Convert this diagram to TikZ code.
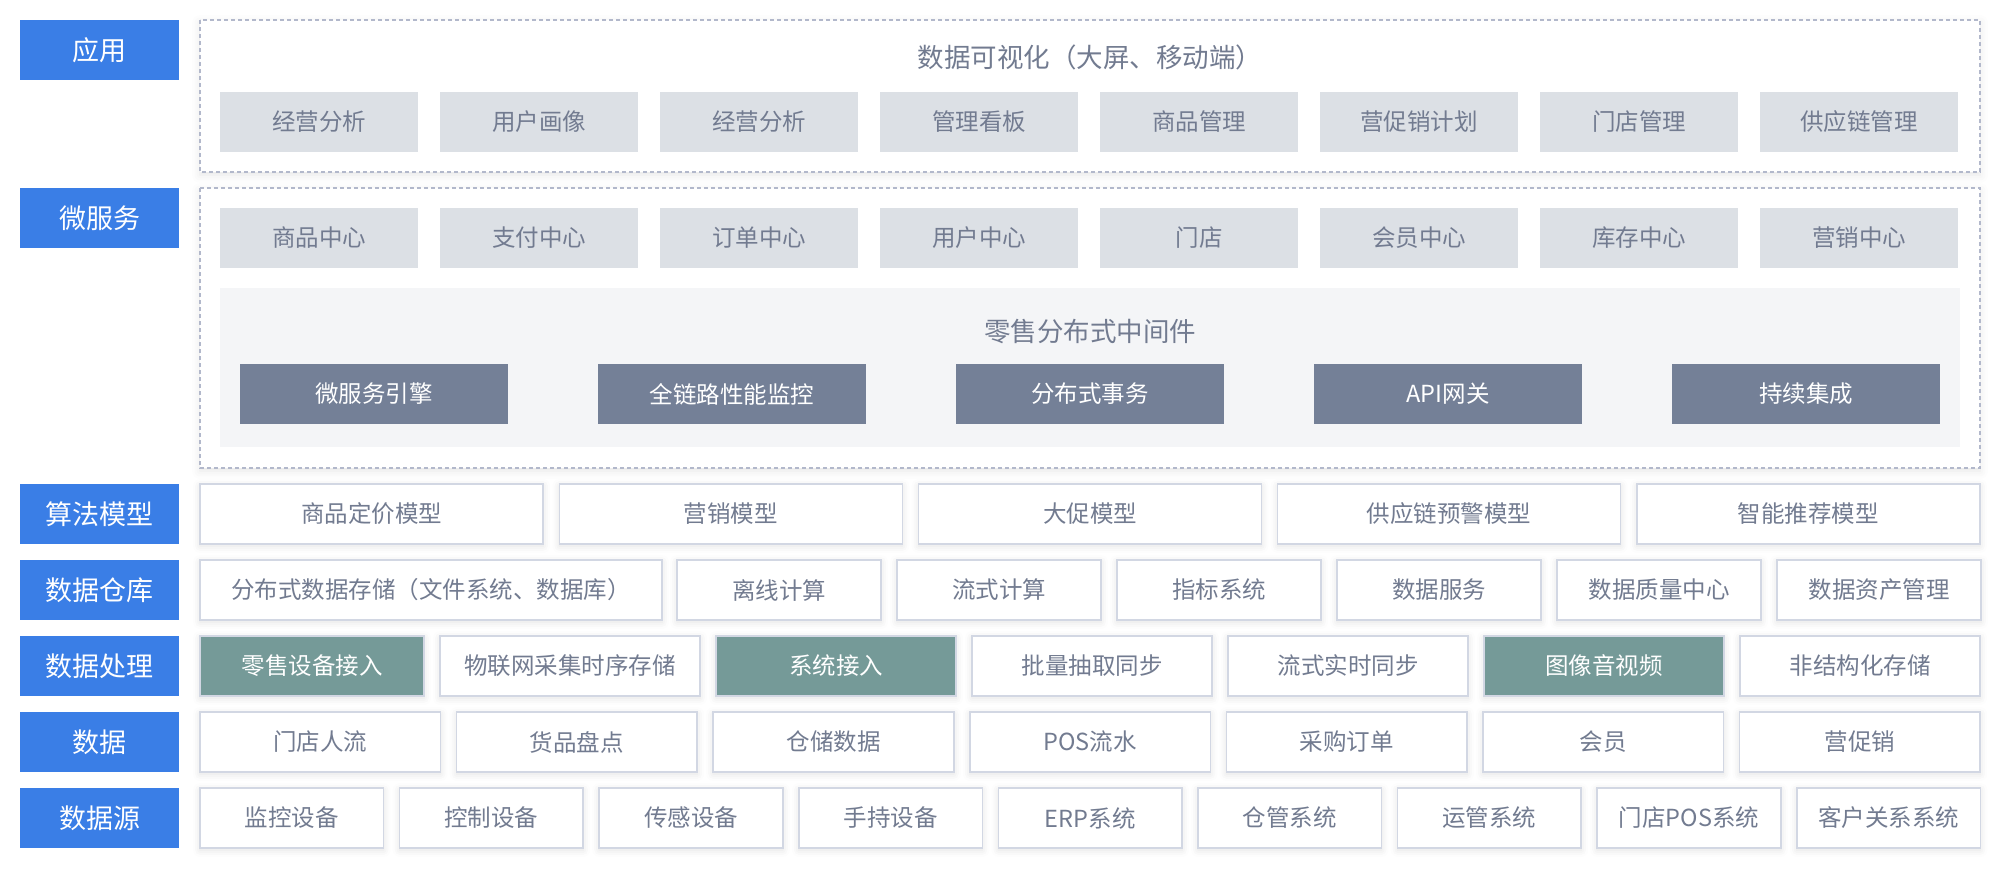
\documentclass[tikz,border=0pt]{standalone}
\usepackage{fontspec}
\setmainfont{Noto Sans CJK SC}
\usepackage{tikz}
\usetikzlibrary{shadows.blur}

\definecolor{layerblue}{HTML}{3A7EE6}
\definecolor{appgray}{HTML}{DCE0E5}
\definecolor{coregray}{HTML}{748097}
\definecolor{hotgreen}{HTML}{759A98}
\definecolor{textgray}{HTML}{727B90}
\definecolor{edgegray}{HTML}{D2D7E3}
\definecolor{dashgray}{HTML}{B2B8CB}
\definecolor{panelgray}{HTML}{F4F5F7}

\begin{document}
\begin{tikzpicture}[x=1pt,y=-1pt,
  layer/.style={fill=layerblue,text=white,minimum width=159pt,minimum height=60pt,
    inner sep=0pt,font=\fontsize{27}{30}\selectfont},
  appbox/.style={fill=appgray,text=textgray,minimum width=198pt,minimum height=60pt,
    inner sep=0pt,font=\fontsize{23.5}{28}\selectfont},
  corebox/.style={fill=coregray,text=white,minimum width=268pt,minimum height=60pt,
    inner sep=0pt,font=\fontsize{23.5}{28}\selectfont},
  cellbox/.style={draw=edgegray,line width=1.5pt,fill=white,text=textgray,minimum height=60pt,
    inner sep=0pt,font=\fontsize{23.5}{28}\selectfont,
    blur shadow={shadow xshift=0pt,shadow yshift=-2pt,shadow blur radius=7pt,shadow opacity=12}},
  hotbox/.style={cellbox,fill=hotgreen,text=white},
  zone/.style={draw=dashgray,line width=1.4pt,dash pattern=on 4pt off 3pt,fill=white,
    blur shadow={shadow xshift=0pt,shadow yshift=-3pt,shadow blur radius=8pt,shadow opacity=10}},
  heading/.style={text=textgray,font=\fontsize{26.5}{30}\selectfont}]

  \useasboundingbox (0,0) rectangle (2000,880);

  \filldraw[zone] (200,20) rectangle (1980,172);
  \filldraw[zone] (200,188) rectangle (1980,468);
  \fill[panelgray] (220,288) rectangle (1960,447);

  \node[heading] (viztitle) at (1090,57) {数据可视化（大屏、移动端）};
  \node[heading] (mwtitle) at (1090,332) {零售分布式中间件};

  \foreach \name/\y [count=\i] in {应用/50,微服务/218,算法模型/514,数据仓库/590,数据处理/666,数据/742,数据源/818}
    \node[layer] (layer\i) at (99.5,\y) {\name};

  \foreach \name [count=\i from 0] in {经营分析,用户画像,经营分析,管理看板,商品管理,营促销计划,门店管理,供应链管理}
    \node[appbox] (app\i) at ({319+220*\i},122) {\name};

  \foreach \name [count=\i from 0] in {商品中心,支付中心,订单中心,用户中心,门店,会员中心,库存中心,营销中心}
    \node[appbox] (svc\i) at ({319+220*\i},238) {\name};

  \foreach \name [count=\i from 0] in {微服务引擎,全链路性能监控,分布式事务,API网关,持续集成}
    \node[corebox] (mw\i) at ({374+358*\i},394) {\name};

  \foreach \name [count=\i from 0] in {商品定价模型,营销模型,大促模型,供应链预警模型,智能推荐模型}
    \node[cellbox,minimum width=343pt] (algo\i) at ({371.6+359.2*\i},514) {\name};

  \node[cellbox,minimum width=462pt] (dw0) at (431,590) {分布式数据存储（文件系统、数据库）};
  \foreach \name [count=\i] in {离线计算,流式计算,指标系统,数据服务,数据质量中心,数据资产管理}
    \node[cellbox,minimum width=204pt] (dw\i) at ({559+220*\i},590) {\name};

  \foreach \l/\r/\sty/\name [count=\i] in {200/424/hotbox/零售设备接入,440/700/cellbox/物联网采集时序存储,
      716/956/hotbox/系统接入,972/1212/cellbox/批量抽取同步,1228/1468/cellbox/流式实时同步,
      1484/1724/hotbox/图像音视频,1740/1980/cellbox/非结构化存储}
    \node[\sty,minimum width={\r-\l}] (proc\i) at ({(\l+\r)/2},666) {\name};

  \foreach \name [count=\i from 0] in {门店人流,货品盘点,仓储数据,POS流水,采购订单,会员,营促销}
    \node[cellbox,minimum width=240.6pt] (data\i) at ({320.3+256.6*\i},742) {\name};

  \foreach \name [count=\i from 0] in {监控设备,控制设备,传感设备,手持设备,ERP系统,仓管系统,运管系统,门店POS系统,客户关系系统}
    \node[cellbox,minimum width=183.6pt] (src\i) at ({291.8+199.6*\i},818) {\name};

\end{tikzpicture}
\end{document}
